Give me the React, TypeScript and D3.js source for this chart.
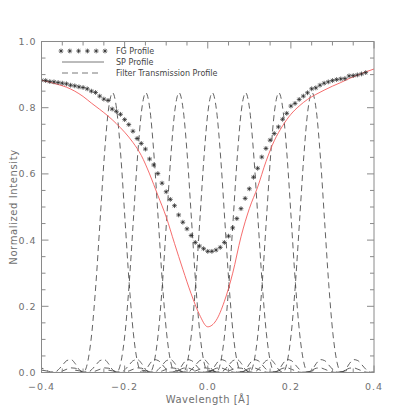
import React, { useEffect, useRef } from 'react'
import { select, scaleLinear, line, curveMonotoneX, range } from 'd3'

// FG profile (asterisks), sampled every 0.01 Å from -0.40 to 0.38
const fgStart = -0.4
const fgStep = 0.01
const fgValues = [
  0.883, 0.882, 0.879, 0.878, 0.876, 0.874, 0.872, 0.868, 0.866, 0.863,
  0.861, 0.857, 0.850, 0.846, 0.835, 0.826, 0.822, 0.796, 0.789, 0.780,
  0.764, 0.749, 0.729, 0.707, 0.692, 0.675, 0.645, 0.627, 0.601, 0.572,
  0.546, 0.523, 0.504, 0.476, 0.454, 0.434, 0.414, 0.393, 0.382, 0.374,
  0.366, 0.366, 0.370, 0.378, 0.393, 0.412, 0.437, 0.465, 0.495, 0.526,
  0.555, 0.590, 0.617, 0.651, 0.677, 0.702, 0.722, 0.742, 0.765, 0.783,
  0.805, 0.813, 0.825, 0.835, 0.845, 0.857, 0.860, 0.868, 0.874, 0.878,
  0.882, 0.885, 0.887, 0.888, 0.896, 0.897, 0.899, 0.902, 0.906
]

// SP profile (red line), every 0.02 Å
const spWave = [
  -0.40, -0.38, -0.36, -0.34, -0.32, -0.30, -0.28, -0.26, -0.24, -0.22,
  -0.20, -0.18, -0.16, -0.14, -0.12, -0.10, -0.08, -0.06, -0.04, -0.02,
  0.00, 0.02, 0.04, 0.06, 0.08, 0.10, 0.12, 0.14, 0.16, 0.18,
  0.20, 0.22, 0.24, 0.26, 0.28, 0.30, 0.32, 0.34, 0.36, 0.38, 0.40
]
const spValues = [
  0.883, 0.877, 0.870, 0.862, 0.850, 0.834, 0.814, 0.795, 0.775, 0.752,
  0.726, 0.695, 0.656, 0.600, 0.535, 0.470, 0.390, 0.312, 0.238, 0.175,
  0.138, 0.157, 0.215, 0.300, 0.410, 0.495, 0.560, 0.637, 0.700, 0.745,
  0.780, 0.805, 0.825, 0.840, 0.853, 0.865, 0.876, 0.888, 0.898, 0.908, 0.917
]

const filterCenters = [-0.229, -0.149, -0.069, 0.011, 0.091, 0.171, 0.251]
const filterOffsets = [
  -0.25, -0.24, -0.23, -0.22, -0.21, -0.20, -0.19, -0.18, -0.17, -0.16, -0.15, -0.14, -0.13,
  -0.12, -0.11, -0.10, -0.09, -0.08, -0.07, -0.06, -0.05, -0.04, -0.03, -0.02, -0.01,
  0.00, 0.01, 0.02, 0.03, 0.04, 0.05, 0.06, 0.07, 0.08, 0.09, 0.10, 0.11, 0.12,
  0.13, 0.14, 0.15, 0.16, 0.17, 0.18, 0.19, 0.20, 0.21, 0.22, 0.23, 0.24, 0.25
]
const filterValues = [
  0.007, 0.005, 0.002, 0.000, 0.001, 0.005, 0.010, 0.014, 0.013, 0.007, 0.002, 0.001, 0.009,
  0.023, 0.036, 0.039, 0.027, 0.008, 0.001, 0.031, 0.119, 0.269, 0.460, 0.651, 0.793,
  0.845, 0.793, 0.651, 0.460, 0.269, 0.119, 0.031, 0.001, 0.008, 0.027, 0.039, 0.036, 0.023,
  0.009, 0.001, 0.002, 0.007, 0.013, 0.014, 0.010, 0.005, 0.001, 0.000, 0.002, 0.005, 0.007
]

const xTicks = [-0.4, -0.2, 0.0, 0.2, 0.4]
const yTicks = [0.0, 0.2, 0.4, 0.6, 0.8, 1.0]

const legendItems = ['FG Profile', 'SP Profile', 'Filter Transmission Profile']

const axisColor = '#8a8a8a'
const textColor = '#707070'
const font = '"DejaVu Sans", sans-serif'

const fmt = v => (v < 0 ? '\u2212' : '') + Math.abs(v).toFixed(1)

const App = () => {
  const svgRef = useRef()

  useEffect(() => {
    const svg = select(svgRef.current)
    svg.selectAll('*').remove()

    const left = 41.5, right = 374, top = 41.5, bottom = 372.5
    const x = scaleLinear().domain([-0.4, 0.4]).range([left, right])
    const y = scaleLinear().domain([0, 1]).range([bottom, top])

    svg.append('clipPath').attr('id', 'plot-clip')
      .append('rect')
      .attr('x', left).attr('y', top)
      .attr('width', right - left).attr('height', bottom - top)

    const plot = svg.append('g').attr('clip-path', 'url(#plot-clip)')

    // filter transmission profiles
    const filterLine = line()
      .x(d => x(d[0]))
      .y(d => y(d[1]))
      .curve(curveMonotoneX)

    filterCenters.forEach(c => {
      plot.append('path')
        .datum(filterOffsets.map((o, i) => [c + o, filterValues[i]]))
        .attr('d', filterLine)
        .attr('fill', 'none')
        .attr('stroke', '#3a3a3a')
        .attr('stroke-width', 0.8)
        .attr('stroke-dasharray', '6,4')
    })

    // SP profile
    const spLine = line()
      .x((d, i) => x(spWave[i]))
      .y(d => y(d))
      .curve(curveMonotoneX)

    plot.append('path')
      .datum(spValues)
      .attr('d', spLine)
      .attr('fill', 'none')
      .attr('stroke', '#f45c5c')
      .attr('stroke-width', 0.9)

    // FG profile asterisks
    const star = 'M-2.4,0H2.4M0,-2.4V2.4M-1.7,-1.7L1.7,1.7M-1.7,1.7L1.7,-1.7'
    plot.selectAll('.fg')
      .data(fgValues)
      .join('path')
      .attr('class', 'fg')
      .attr('d', star)
      .attr('transform', (d, i) => `translate(${x(fgStart + i * fgStep)},${y(d)})`)
      .attr('stroke', '#222')
      .attr('stroke-width', 0.7)
      .attr('fill', 'none')

    // frame
    svg.append('rect')
      .attr('x', left).attr('y', top)
      .attr('width', right - left).attr('height', bottom - top)
      .attr('fill', 'none')
      .attr('stroke', axisColor)
      .attr('stroke-width', 1)

    // ticks on all four sides, pointing inwards
    const ticks = svg.append('g').attr('stroke', axisColor).attr('stroke-width', 1)
    range(0, 17).forEach(k => {
      const v = -0.4 + k * 0.05
      const len = k % 4 === 0 ? 7 : 4
      ticks.append('line').attr('x1', x(v)).attr('x2', x(v)).attr('y1', bottom).attr('y2', bottom - len)
      ticks.append('line').attr('x1', x(v)).attr('x2', x(v)).attr('y1', top).attr('y2', top + len)
    })
    range(0, 21).forEach(k => {
      const v = k * 0.05
      const len = k % 4 === 0 ? 7 : 4
      ticks.append('line').attr('y1', y(v)).attr('y2', y(v)).attr('x1', left).attr('x2', left + len)
      ticks.append('line').attr('y1', y(v)).attr('y2', y(v)).attr('x1', right).attr('x2', right - len)
    })

    // tick labels
    svg.selectAll('.xlab')
      .data(xTicks)
      .join('text')
      .attr('class', 'xlab')
      .attr('x', d => x(d))
      .attr('y', bottom + 17)
      .attr('text-anchor', 'middle')
      .attr('font-family', font)
      .attr('font-size', 9.5)
      .attr('letter-spacing', 1)
      .attr('fill', textColor)
      .text(fmt)

    svg.selectAll('.ylab')
      .data(yTicks)
      .join('text')
      .attr('class', 'ylab')
      .attr('x', left - 5)
      .attr('y', d => y(d) + 3.5)
      .attr('text-anchor', 'end')
      .attr('font-family', font)
      .attr('font-size', 9.5)
      .attr('letter-spacing', 1)
      .attr('fill', textColor)
      .text(fmt)

    // axis titles
    svg.append('text')
      .attr('x', (left + right) / 2)
      .attr('y', 403)
      .attr('text-anchor', 'middle')
      .attr('font-family', font)
      .attr('font-size', 10)
      .attr('letter-spacing', 0.5)
      .attr('fill', textColor)
      .text('Wavelength [Å]')

    svg.append('text')
      .attr('transform', `translate(17,${(top + bottom) / 2}) rotate(-90)`)
      .attr('text-anchor', 'middle')
      .attr('font-family', font)
      .attr('font-size', 10)
      .attr('letter-spacing', 0.6)
      .attr('fill', textColor)
      .text('Normalized Intensity')

    // legend
    const legend = svg.append('g')
    const rowY = [51, 62, 73]
    range(0, 6).forEach(k => {
      legend.append('path')
        .attr('d', star)
        .attr('transform', `translate(${61 + k * 8.8},${rowY[0]})`)
        .attr('stroke', '#222')
        .attr('stroke-width', 0.7)
        .attr('fill', 'none')
    })
    legend.append('line')
      .attr('x1', 62).attr('x2', 104).attr('y1', rowY[1]).attr('y2', rowY[1])
      .attr('stroke', '#555').attr('stroke-width', 0.8)
    legend.append('line')
      .attr('x1', 62).attr('x2', 100).attr('y1', rowY[2]).attr('y2', rowY[2])
      .attr('stroke', '#555').attr('stroke-width', 0.8)
      .attr('stroke-dasharray', '6,4')
    legend.selectAll('.legtext')
      .data(legendItems)
      .join('text')
      .attr('class', 'legtext')
      .attr('x', 116)
      .attr('y', (d, i) => rowY[i] + 3)
      .attr('font-family', font)
      .attr('font-size', 8)
      .attr('fill', '#444')
      .text(d => d)
  }, [])

  return <svg
    ref={svgRef}
    width={415}
    height={415}
    style={{ position: 'absolute', left: 0, top: 0, background: '#fff' }}
  />
}

export default App
